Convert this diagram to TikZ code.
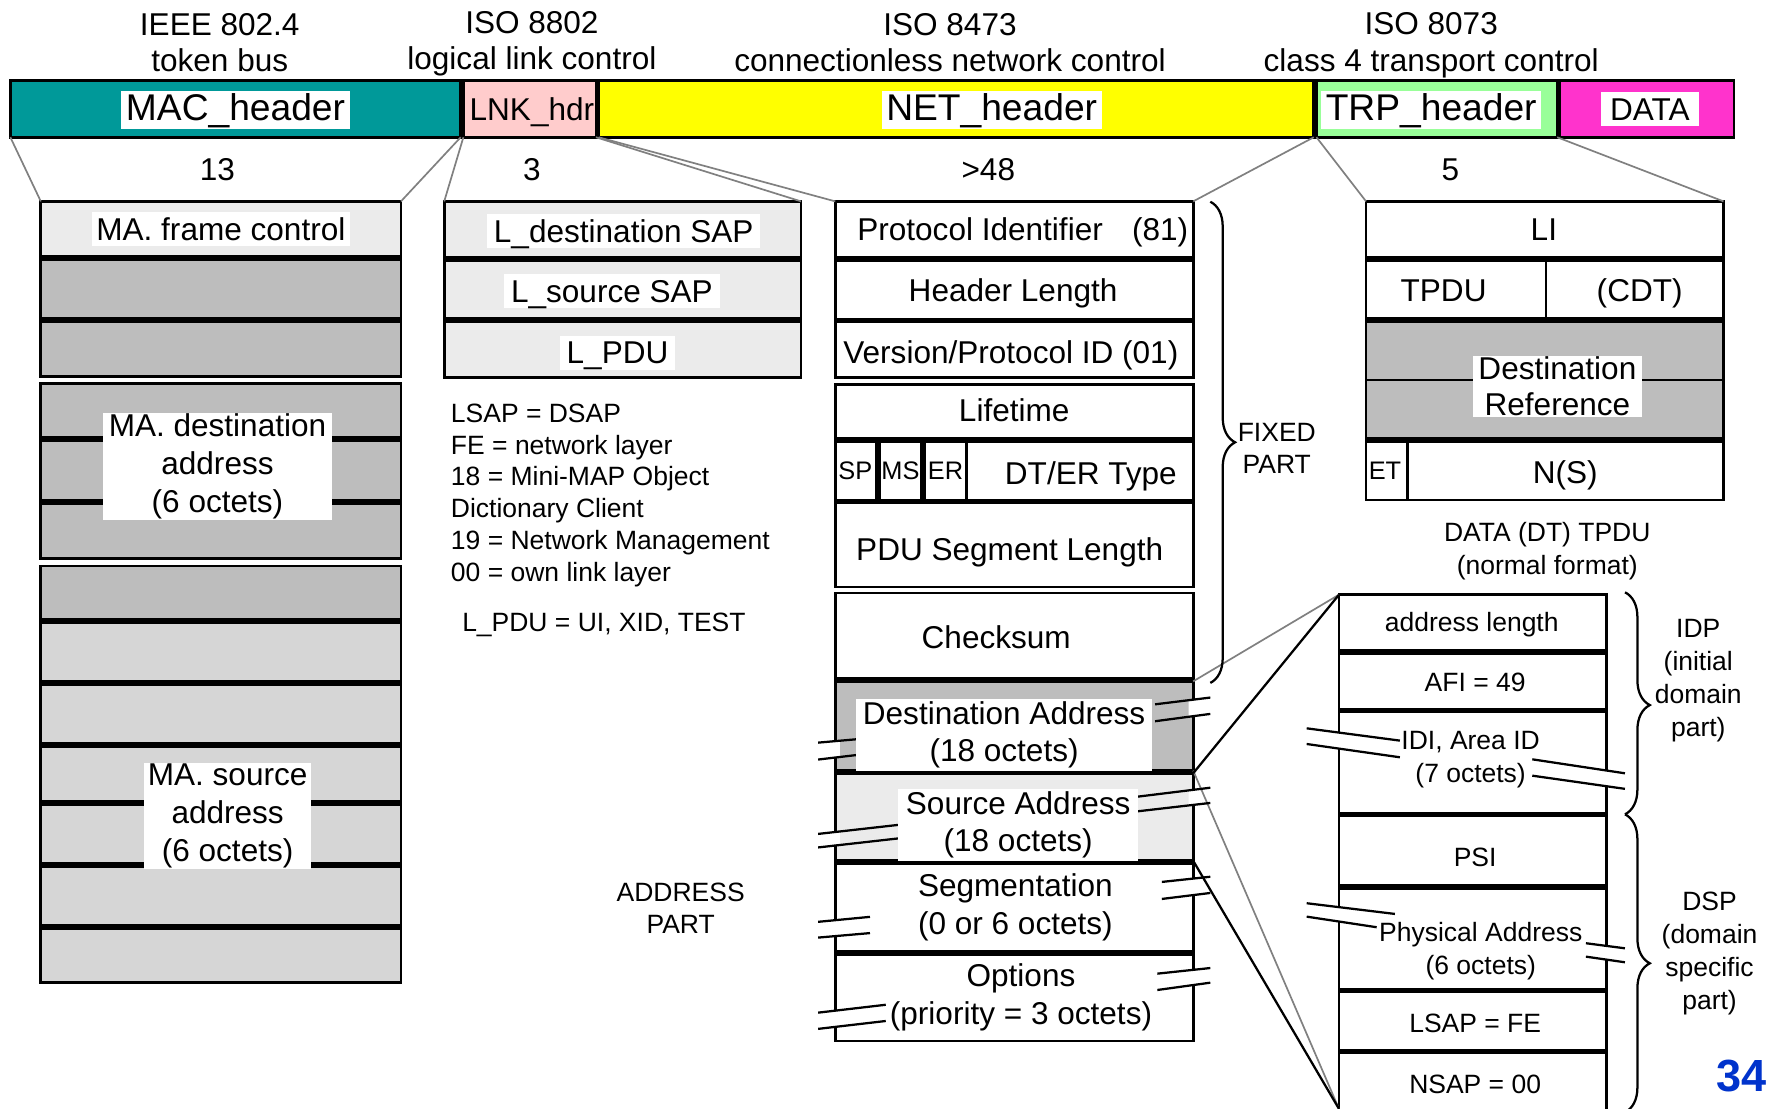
\documentclass[tikz,border=0pt]{standalone}
\usepackage{fontspec}
\setmainfont{Liberation Sans}
\usetikzlibrary{decorations.pathreplacing}
\definecolor{macc}{HTML}{009999}
\definecolor{lnkc}{HTML}{FFCCCC}
\definecolor{netc}{HTML}{FFFF00}
\definecolor{trpc}{HTML}{99FF99}
\definecolor{datc}{HTML}{FF33CC}
\definecolor{dense}{HTML}{BDBDBD}
\definecolor{medd}{HTML}{D6D6D6}
\definecolor{lite}{HTML}{EBEBEB}
\definecolor{pgblue}{HTML}{0033CC}
\newcommand\rb[6]{\node[box,#6,minimum width={(#4-#2-2.4)*1pt},minimum height={(#5-#3-2.4)*1pt}] (#1) at (#2+1.2,#3+1.2) {};}
\newcommand\brkm[9]{%
  \begin{scope}\clip (#9-4,0) rectangle (#9+4,1100);
  \fill[white] (#1,#2) -- (#3,#4) -- (#7,#8) -- (#5,#6) -- cycle;\end{scope}
  \draw[brk] (#1,#2) -- (#3,#4) (#5,#6) -- (#7,#8);}
\begin{document}
\begin{tikzpicture}[x=1pt,y=-1pt,
 box/.style={draw=black,line width=2.4pt,inner sep=0pt,outer sep=0pt,anchor=north west},
 f28/.style={font=\fontsize{28}{33.5}\selectfont},
 f23/.style={font=\fontsize{23.5}{29}\selectfont},
 t28/.style={inner sep=0pt,font=\fontsize{28}{33.5}\selectfont,text height=25.2pt,text depth=5.6pt},
 t23/.style={inner sep=0pt,font=\fontsize{23.5}{29}\selectfont,text height=21.15pt,text depth=4.7pt},
 t22/.style={inner sep=0pt,font=\fontsize{22.5}{27}\selectfont,text height=20.25pt,text depth=4.5pt},
 w33/.style={fill=white,inner xsep=4pt,inner ysep=0pt,font=\fontsize{33}{38}\selectfont,text height=25.7pt,text depth=7.3pt},
 w28/.style={fill=white,inner xsep=4pt,inner ysep=0pt,font=\fontsize{28}{33.5}\selectfont,text height=25pt,text depth=5pt},
 wm/.style={fill=white,inner xsep=5pt,inner ysep=1pt,align=center},
 m/.style={inner sep=0pt,align=center},
 conn/.style={draw=gray,line width=1.5pt},
 link/.style={draw=black,line width=2pt},
 brk/.style={draw=black,line width=2pt},
 brc/.style={draw=black,line width=2pt,decorate}
]
\path[fill=white] (0,0) rectangle (1568,984);
\useasboundingbox (0,0) rectangle (1568,984);

% ---------- top labels
\node[m,font=\fontsize{28}{32}\selectfont] (s1) at (195,38) {IEEE 802.4\\token bus};
\node[m,font=\fontsize{28}{32}\selectfont] (s2) at (472,39) {ISO 8802\\logical link control};
\node[m,font=\fontsize{28}{32}\selectfont] (s3) at (843,38) {ISO 8473\\connectionless network control};
\node[m,font=\fontsize{28}{33}\selectfont] (s4) at (1270,40.5) {ISO 8073\\class 4 transport control};

% ---------- top bar
\rb{mac}{8}{70}{410}{123}{fill=macc}
\rb{lnk}{410}{70}{530}{123}{fill=lnkc}
\rb{net}{530}{70}{1167}{123}{fill=netc}
\rb{trp}{1167}{70}{1383}{123}{fill=trpc}
\rb{data}{1383}{70}{1540}{123}{fill=datc}
\node[w33] (macl) at (209,97.6) {MAC\_header};
\node[t28] (lnkl) at (472,97) {LNK\_hdr};
\node[w33] (netl) at (880,97.6) {NET\_header};
\node[w33] (trpl) at (1270,97.6) {TRP\_header};
\node[w28,inner xsep=8.5pt] (datl) at (1464,97) {DATA};

\node[t28] (n13) at (193,150) {13};
\node[t28] (n3) at (472,150) {3};
\node[t28] (n48) at (877,150) {>48};
\node[t28] (n5) at (1287,150) {5};

% ---------- MAC detail
\rb{m1}{35}{177.5}{357}{229}{fill=lite}
\rb{m2}{35}{229}{357}{284}{fill=dense}
\rb{m3}{35}{284}{357}{335.5}{fill=dense}
\rb{m4}{35}{339}{357}{389.5}{fill=dense}
\rb{m5}{35}{389.5}{357}{445.5}{fill=dense}
\rb{m6}{35}{445.5}{357}{497}{fill=dense}
\rb{m7}{35}{501}{357}{551}{fill=dense}
\rb{m8}{35}{551}{357}{606}{fill=medd}
\rb{m9}{35}{606}{357}{661}{fill=medd}
\rb{m10}{35}{661}{357}{712.5}{fill=medd}
\rb{m11}{35}{712.5}{357}{767.5}{fill=medd}
\rb{m12}{35}{767.5}{357}{822.5}{fill=medd}
\rb{m13}{35}{822.5}{357}{873}{fill=medd}

% ---------- LNK detail
\rb{l1}{393}{177.5}{712}{230}{fill=lite}
\rb{l2}{393}{230}{712}{284}{fill=lite}
\rb{l3}{393}{284}{712}{336}{fill=lite}

% ---------- NET detail
\rb{pi}{740}{177.5}{1060}{230}{fill=white}
\rb{hl}{740}{230}{1060}{284.5}{fill=white}
\rb{vp}{740}{284.5}{1060}{336.4}{fill=white}
\rb{lt}{740}{340}{1060}{390.4}{fill=white}
\rb{sp}{740}{390.4}{779}{445}{fill=white}
\rb{ms}{779}{390.4}{819}{445}{fill=white}
\rb{er}{819}{390.4}{858.6}{445}{fill=white}
\rb{dt}{856.2}{390.4}{1060}{445}{fill=white}
\rb{psl}{740}{445}{1060}{522}{fill=white}
\rb{cs}{740}{525}{1060}{603.4}{fill=white}
\rb{da}{740}{603.4}{1060}{685}{fill=dense}
\rb{sa}{740}{685}{1060}{765}{fill=lite}
\rb{sg}{740}{765}{1060}{845.5}{fill=white}
\rb{op}{740}{845.5}{1060}{925}{fill=white}

% ---------- TRP detail
\rb{li}{1211}{177.5}{1530.6}{230}{fill=white}
\rb{tp}{1211}{230}{1373.2}{284}{fill=white}
\rb{cdt}{1370.8}{230}{1530.6}{284}{fill=white}
\rb{dr}{1211}{284}{1530.6}{390.4}{fill=dense}
\draw[line width=1.5pt] (dr.west) -- (dr.east);
\rb{et}{1211}{390.4}{1250.2}{445}{fill=white}
\rb{ns}{1247.8}{390.4}{1530.6}{445}{fill=white}

% ---------- address detail
\rb{al}{1187}{526.5}{1427}{578.5}{fill=white}
\rb{afi}{1187}{578.5}{1427}{630.5}{fill=white}
\rb{idi}{1187}{630.5}{1427}{723}{fill=white}
\rb{psi}{1187}{723}{1427}{787}{fill=white}
\rb{pa}{1187}{787}{1427}{879}{fill=white}
\rb{lsap}{1187}{879}{1427}{933}{fill=white}
\rb{nsap}{1187}{933}{1427}{1000}{fill=white}
\coordinate (abot) at (1188.2,984);

% ---------- connectors
\draw[conn] (mac.south west) -- (m1.north west);
\draw[conn] (mac.south east) -- (m1.north east);
\draw[conn] (lnk.south west) -- (l1.north west);
\draw[conn] (lnk.south east) -- (l1.north east);
\draw[conn] (net.south west) -- (pi.north west);
\draw[conn] (net.south east) -- (pi.north east);
\draw[conn] (trp.south west) -- (li.north west);
\draw[conn] (trp.south east) -- (li.north east);
\draw[conn] (da.north east) -- (al.north west);
\draw[conn] (da.south east) -- (abot);
\draw[link] (sa.north east) -- (al.north west);
\draw[link] (sa.south east) -- (abot);

% ---------- break marks
\brkm{1025}{625}{1074}{619}{1025}{640}{1074}{633.5}{1058.8}
\brkm{726}{659}{760}{656}{726}{674}{760}{670}{741.2}
\brkm{1009}{707}{1074}{699}{1009}{720}{1074}{712.5}{1058.8}
\brkm{726}{740}{797}{732}{726}{752}{797}{744}{741.2}
\brkm{1031}{782.6}{1074}{778}{1031}{797.7}{1074}{792.4}{1058.8}
\brkm{726}{818}{772}{813.6}{726}{832}{772}{828}{741.2}
\brkm{1027}{864}{1074}{859}{1027}{878.5}{1074}{872}{1058.8}
\brkm{726}{898.6}{786}{891.6}{726}{913}{786}{906}{741.2}
\brkm{1159.5}{646.3}{1242.2}{657.2}{1159.5}{660.2}{1242.2}{672}{1188.2}
\brkm{1359.7}{673.8}{1441.9}{686.2}{1359.7}{688.3}{1441.9}{700}{1425.8}
\brkm{1159.5}{801.5}{1237.8}{811}{1159.5}{813.4}{1221.6}{822.8}{1188.2}
\brkm{1407.3}{837}{1441.9}{841.5}{1407.3}{848.9}{1441.9}{853.9}{1425.8}

% ---------- braces
\draw[brc,decoration={brace,amplitude=22pt,aspect=0.5}] (1074,179) -- (1074,606);
\draw[brc,decoration={brace,amplitude=22pt,aspect=0.508}] (1442,525.6) -- (1442,722.6);
\draw[brc,decoration={brace,amplitude=22pt,aspect=0.5}] (1442,722.6) -- (1442,987);

% ---------- MAC labels
\node[w28] (mfc) at (196,203.4) {MA. frame control};
\node[wm,f28] (mda) at (193,414) {MA. destination\\address\\(6 octets)};
\node[wm,f28,inner xsep=3pt] (msa) at (202,724) {MA. source\\address\\(6 octets)};

% ---------- LNK labels
\node[w28,inner xsep=6pt] (l1t) at (553.5,204.8) {L\_destination SAP};
\node[w28,inner xsep=6pt] (l2t) at (543,258.5) {L\_source SAP};
\node[w28,inner xsep=6pt] (l3t) at (548,313) {L\_PDU};
\node[inner sep=0pt,align=left,anchor=west,font=\fontsize{23.5}{28.2}\selectfont] (notes) at (400,439.5) {LSAP = DSAP\\FE = network layer\\18 = Mini-MAP Object\\Dictionary Client\\19 = Network Management\\00 = own link layer};
\node[t23,anchor=west] (lpdu) at (410,552) {L\_PDU = UI, XID, TEST};
\node[m,font=\fontsize{23.5}{29}\selectfont] (addrp) at (604,806) {ADDRESS\\PART};

% ---------- NET labels
\node[t28] (pit) at (907.6,204) {Protocol Identifier\hspace{26pt}(81)};
\node[t28] (hlt) at (899,258) {Header Length};
\node[t28] (vpt) at (897,313) {Version/Protocol ID (01)};
\node[t28] (ltt) at (900,364) {Lifetime};
\node[t22] (spt) at (759,418) {SP};
\node[t22] (mst) at (799,418) {MS};
\node[t22] (ert) at (839,418) {ER};
\node[t28] (dtt) at (968,420) {DT/ER Type};
\node[t28] (pslt) at (896,488) {PDU Segment Length};
\node[t28] (cst) at (884,566) {Checksum};
\node[wm,f28,inner xsep=6pt,inner ysep=2pt] (dat) at (891,652) {Destination Address\\(18 octets)};
\node[wm,f28,inner xsep=7pt,inner ysep=2pt] (sat) at (903.5,732) {Source Address\\(18 octets)};
\node[m,f28] (sgt) at (901,805) {Segmentation\\(0 or 6 octets)};
\node[m,f28] (opt) at (906,885) {Options\\(priority = 3 octets)};
\node[m,font=\fontsize{23.5}{28}\selectfont] (fixed) at (1133,398) {FIXED\\PART};

% ---------- TRP labels
\node[t28] (lit) at (1370,204) {LI};
\node[t28] (tpt) at (1281,258) {TPDU};
\node[t28] (cdtt) at (1455,258) {(CDT)};
\node[wm,font=\fontsize{28}{32}\selectfont,inner ysep=1pt] (drt) at (1382,343) {Destination\\Reference};
\node[t22] (ett) at (1229,418) {ET};
\node[t28] (nst) at (1389,419) {N(S)};
\node[m,f23] (dttp) at (1373,489) {DATA (DT) TPDU\\(normal format)};

% ---------- address labels
\node[t23] (alt) at (1306,552.5) {address length};
\node[t23] (afit) at (1309,605) {AFI = 49};
\node[m,f23] (idit) at (1305,674) {IDI, Area ID\\(7 octets)};
\node[t23] (psit) at (1309,760.5) {PSI};
\node[m,font=\fontsize{23.5}{29.5}\selectfont] (pat) at (1314,844) {Physical Address\\(6 octets)};
\node[t23] (lsapt) at (1309,908) {LSAP = FE};
\node[t23] (nsapt) at (1309,962) {NSAP = 00};
\node[m,font=\fontsize{23.5}{29.3}\selectfont] (idp) at (1507,604) {IDP\\(initial\\domain\\part)};
\node[m,font=\fontsize{23.5}{29.3}\selectfont] (dsp) at (1517,846) {DSP\\(domain\\specific\\part)};

\node[inner sep=0pt,anchor=east,text=pgblue,font=\bfseries\fontsize{40}{46}\selectfont,text height=36pt,text depth=8pt] (pg) at (1567.5,955) {34};
\end{tikzpicture}
\end{document}
